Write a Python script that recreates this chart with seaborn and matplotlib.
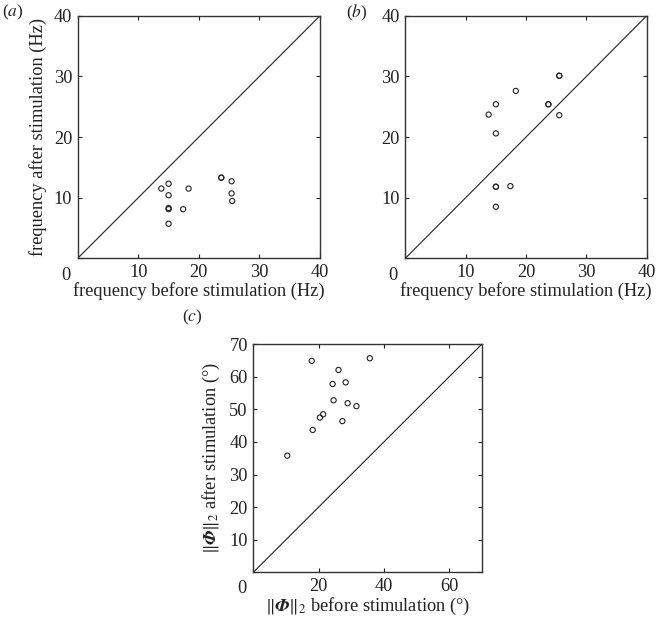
import numpy as np
import pandas as pd
import seaborn as sns
import matplotlib.pyplot as plt

# frequency data (Hz), panels a and b
freq_before = [13.8, 15.0, 15.0, 15.0, 15.0, 15.0, 17.4, 18.3, 23.7, 23.7, 25.4, 25.4, 25.5]
freq_after_a = [11.5, 12.3, 10.4, 8.3, 8.1, 5.7, 8.1, 11.5, 13.3, 13.3, 12.7, 10.7, 9.45]
freq_before_b = [13.8, 15.0, 15.0, 15.0, 15.0, 15.0, 17.4, 18.3, 23.7, 23.7, 25.5, 25.5, 25.5]
freq_after_b = [23.7, 25.4, 20.6, 11.8, 11.8, 8.5, 11.9, 27.6, 25.4, 25.4, 30.1, 30.1, 23.6]

# phase norm data (degrees), panel c
phi_before = [10.4, 17.9, 18.2, 20.4, 21.4, 24.3, 24.6, 26.1, 27.3, 28.3, 28.9, 31.6, 35.7]
phi_after = [35.8, 64.9, 43.7, 47.5, 48.5, 57.8, 52.8, 62.1, 46.4, 58.3, 51.9, 51.0, 65.7]

sns.set_style("ticks")
plt.rcParams['font.family'] = ['Liberation Serif', 'DejaVu Serif']
plt.rcParams['mathtext.fontset'] = 'stix'
plt.rcParams['font.size'] = 10.5

fig = plt.figure(figsize=(6.57, 6.3), dpi=100)
ax_a = fig.add_axes([0.1183, 0.590, 0.3688, 0.385])
ax_b = fig.add_axes([0.617, 0.590, 0.3674, 0.385])
ax_c = fig.add_axes([0.3856, 0.0916, 0.3476, 0.362])

FS = 13.2


def style_panel(ax, xs, ys, lim, ticks, xlabel, ylabel, tag, tag_xy):
    df = pd.DataFrame({'x': xs, 'y': ys})
    ax.axline((0, 0), slope=1, color='#222222', lw=0.8)
    sns.scatterplot(data=df, x='x', y='y', ax=ax, marker='o', s=14,
                    facecolor='none', edgecolor='#222222', linewidth=0.8,
                    zorder=3)
    ax.set_xlim(0, lim)
    ax.set_ylim(0, lim)
    ax.set_xticks(ticks)
    ax.set_yticks(ticks)
    ax.set_xticklabels([''] + [str(t) for t in ticks[1:]])
    ax.set_yticklabels([''] + [str(t) for t in ticks[1:]])
    ax.tick_params(direction='in', top=True, right=True, length=3,
                   width=0.8, labelsize=FS, colors='#222222', pad=4)
    ax.text(-0.05, -0.035, '0', transform=ax.transAxes, fontsize=FS,
            ha='center', va='top', color='#222222')
    for sp in ax.spines.values():
        sp.set_linewidth(1.0)
        sp.set_color('#333333')
    ax.set_xlabel(xlabel, fontsize=FS, labelpad=1, color='#222222')
    ax.set_ylabel(ylabel, fontsize=FS, labelpad=5, color='#222222')
    fig.text(tag_xy[0], tag_xy[1], tag, fontsize=12.5, ha='left', va='top',
             color='#222222')


style_panel(ax_a, freq_before, freq_after_a, 40, [0, 10, 20, 30, 40],
            'frequency before stimulation (Hz)', 'frequency after stimulation (Hz)',
            r'($\mathit{a}$)', (0.003, 0.995))
style_panel(ax_b, freq_before_b, freq_after_b, 40, [0, 10, 20, 30, 40],
            'frequency before stimulation (Hz)', '',
            r'($\mathit{b}$)', (0.527, 0.995))
style_panel(ax_c, phi_before, phi_after, 70, [0, 10, 20, 30, 40, 50, 60, 70],
            r'$\Vert\mathbfit{\Phi}\Vert_2$ before stimulation (°)',
            r'$\Vert\mathbfit{\Phi}\Vert_2$ after stimulation (°)',
            r'($\mathit{c}$)', (0.277, 0.512))
ax_c.set_xticks([0, 20, 40, 60])
ax_c.set_xticklabels(['', '20', '40', '60'])

fig.savefig('out.png', dpi=100)
